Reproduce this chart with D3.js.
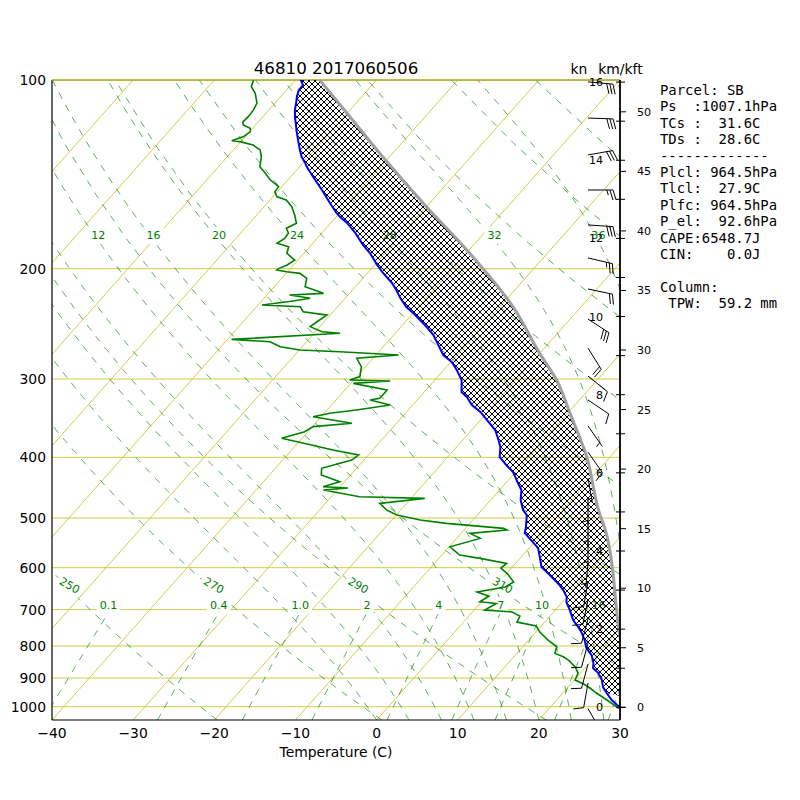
<!DOCTYPE html>
<html><head><meta charset="utf-8">
<script src="https://cdn.jsdelivr.net/npm/d3@7"></script>
<style>
body{margin:0;background:#fff}
text{font-family:"DejaVu Sans",sans-serif}
.mono{font-family:"DejaVu Sans Mono",monospace;white-space:pre}
</style></head>
<body><svg id="c" width="800" height="800"></svg>
<script>
// ---------------- data ----------------
const title = "46810 2017060506";
const tempP = [100,100.3,101.9,103.7,106.3,108.8,111.6,114.6,118.0,120.2,124.7,129.3,132.7,135.7,137.6,142.8,149.8,157.1,163.0,165.4,169.1,175.4,183.4,188.8,197.3,203.2,210.8,216.3,222.0,230.3,235.4,247.8,255.2,264.8,274.7,281.8,290.2,301.1,314.7,320.5,330.1,338.6,351.3,361.8,375.3,385.1,399.5,411.5,422.2,439.6,451.1,468.0,485.6,494.5,518.7,528.3,546.1,558.3,577.1,598.7,616.6,639.7,651.5,668.5,680.9,701.2,727.4,746.4,763.0,782.9,806.2,827.3,851.8,867.6,883.7,906.7,930.3,951.0,975.7,993.8,1001.1,1007.1];
const tempT = [-79.4,-79.2,-78.5,-78.5,-78.0,-77.4,-76.8,-76.0,-75.0,-74.4,-73.1,-71.8,-70.8,-69.7,-69.1,-67.2,-64.7,-62.3,-60.4,-59.5,-58.0,-55.9,-53.6,-51.9,-49.7,-48.1,-45.9,-44.6,-43.4,-41.5,-40.0,-36.8,-35.1,-33.4,-31.7,-29.9,-28.4,-26.7,-25.4,-24.2,-22.7,-20.9,-18.8,-17.1,-15.6,-14.6,-13.6,-11.9,-10.3,-8.5,-7.3,-6.3,-4.9,-3.9,-2.6,-2.2,-0.2,1.1,2.3,3.6,5.5,7.8,8.8,10.0,10.5,11.8,13.3,14.7,15.8,16.9,18.0,19.4,20.5,21.0,22.2,23.4,24.3,25.4,26.8,28.0,28.6,31.6];
const dewP = [100,100.3,102.5,105.0,108.9,111.6,114.4,116.6,118.0,119.4,120.9,123.1,125.0,125.4,127.0,129.3,132.6,137.5,140.9,144.3,148.0,150.8,153.6,155.4,159.3,164.3,169.3,172.4,175.6,178.9,182.2,184.5,189.0,193.8,197.3,199.8,201.0,202.3,203.5,207.3,213.7,219.0,220.3,223.0,225.3,228.6,230.0,234.3,237.2,243.1,247.5,252.1,253.6,259.3,261.6,266.5,269.7,271.4,274.7,278.0,286.8,297.5,301.1,302.2,304.8,312.3,322.0,324.0,330.0,336.1,340.3,344.5,352.9,357.3,364.0,373.0,382.3,389.4,396.6,404.0,416.5,426.9,437.5,445.6,447.7,451.1,462.3,465.1,473.7,485.6,494.5,503.6,509.8,519.3,522.5,528.9,538.8,555.6,572.9,579.9,590.6,600.9,614.3,632.4,644.2,656.2,666.1,680.1,684.2,701.2,705.6,716.8,732.8,743.6,760.2,782.9,802.3,822.1,832.5,842.6,864.4,883.7,906.7,920.1,933.6,949.2,975.7,1000.0,1007.1];
const dewT = [-85.2,-85.1,-84.7,-83.5,-82.2,-81.9,-81.8,-81.9,-81.5,-80.3,-79.9,-80.2,-81.2,-80.1,-78.1,-76.7,-75.8,-74.9,-73.5,-72.2,-70.4,-70.3,-69.5,-68.0,-66.6,-65.3,-64.2,-64.9,-64.1,-64.0,-64.4,-62.6,-62.1,-60.4,-60.8,-61.4,-61.5,-60.1,-58.3,-56.9,-56.2,-53.2,-57.2,-54.3,-56.1,-59.5,-54.6,-53.7,-50.4,-50.9,-51.2,-49.2,-46.8,-59.5,-54.5,-52.7,-49.9,-44.8,-37.2,-42.0,-40.5,-39.6,-40.5,-35.4,-39.7,-34.8,-34.8,-35.8,-32.8,-36.4,-39.3,-41.0,-35.5,-39.9,-40.4,-42.5,-38.1,-34.9,-31.2,-31.5,-34.3,-33.6,-30.6,-32.1,-28.9,-31.7,-26.5,-18.3,-23.3,-21.7,-19.9,-16.5,-12.9,-5.3,-4.7,-8.9,-7.1,-9.9,-7.8,-4.9,-1.1,-1.3,0.2,1.8,1.3,-1.6,0.3,-0.2,2.0,1.3,4.8,6.3,6.6,9.4,10.5,12.4,14.2,14.7,16.1,17.1,18.7,19.7,20.1,21.6,22.8,24.0,26.2,28.1,28.6];
const parcelP = [100,113.0,130.9,159.3,186.7,230.0,273.0,301.1,340.3,399.1,485.6,528.9,736.3,782.9,850,900,964.5,1007.1];
const parcelT = [-77.0,-70.0,-61.6,-50.0,-40.3,-28.4,-20.0,-15.0,-9.7,-2.9,4.4,7.9,19.2,21.3,23.9,25.6,27.9,31.6];
const lfcP = 964.5;
const windP = [100.7,115.0,131.7,149.8,170.3,192.3,215.5,240.7,267.8,296.7,324.0,356.5,392.4,431.6,468.0,503.6,544.0,589.9,632.4,675.5,724.7,791.6,855.0,916.7,1007.1];
const windDir = [95,92,80,90,94,103,102,123,148,129,124,145,145,170,180,180,180,185,190,192,195,195,195,190,150];
const windSpd = [30,30,30,25,30,25,20,30,20,10,10,5,10,5,5,5,5,5,10,10,10,10,10,10,5];
const pressureTicks = [100,200,300,400,500,600,700,800,900,1000];
const tempTicks = [-40,-30,-20,-10,0,10,20,30];
const kmTicks = [0,2,4,6,8,10,12,14,16];
const kftTicks = [0,5,10,15,20,25,30,35,40,45,50];
const dryThetas = [210,230,250,270,290,310,330,350,370,390,410,430,450,470,490,510,530,550];
const moistStarts = [0,4,8,12,16,20,24,28,32,36,40,44];
const mixRatios = [0.1,0.4,1,2,4,7,10,16,24,32];
const infoLines = ["Parcel: SB","Ps  :1007.1hPa","TCs :  31.6C","TDs :  28.6C","-------------","Plcl: 964.5hPa","Tlcl:  27.9C","Plfc: 964.5hPa","P_el:  92.6hPa","CAPE:6548.7J","CIN:    0.0J","","Column:"," TPW:  59.2 mm"];

// ---------------- layout ----------------
const AX = {l:52, r:620, t:80, b:720};
const svg = d3.select('#c');
svg.append('rect').attr('width',800).attr('height',800).attr('fill','#fff');
const yP = d3.scaleLog().domain([1050,100]).range([AX.b, AX.t]);
const xT = d3.scaleLinear().domain([-40,30]).range([AX.l, AX.r]);
const skew = (AX.r-AX.l)/(AX.b-AX.t);
const sx = (T,p) => xT(T) + (AX.b - yP(p))*skew;

const defs = svg.append('defs');
defs.append('clipPath').attr('id','clipAx').append('rect')
  .attr('x',AX.l).attr('y',AX.t).attr('width',AX.r-AX.l).attr('height',AX.b-AX.t);
defs.append('clipPath').attr('id','clipBarb').append('rect')
  .attr('x',500).attr('y',60).attr('width',140).attr('height',AX.b-60);
const hs = 6;
const pat = defs.append('pattern').attr('id','hatch').attr('patternUnits','userSpaceOnUse')
  .attr('width',hs).attr('height',hs);
pat.append('path').attr('d',`M0,0L${hs},${hs}M${hs},0L0,${hs}M-1,${hs-1}L1,${hs+1}M${hs-1},-1L${hs+1},1`)
  .attr('stroke','#000').attr('stroke-width',1).attr('fill','none');

const plot = svg.append('g').attr('clip-path','url(#clipAx)');
const YEL = '#c8c832', GRN = '#008000';

// isobars
plot.selectAll('.isobar').data(pressureTicks).enter().append('line')
  .attr('x1',AX.l).attr('x2',AX.r).attr('y1',d=>yP(d)).attr('y2',d=>yP(d))
  .attr('stroke',YEL).attr('stroke-width',0.9);
// isotherms
const isoT = d3.range(-120,40,10);
plot.selectAll('.isotherm').data(isoT).enter().append('line')
  .attr('x1',d=>sx(d,1050)).attr('y1',yP(1050)).attr('x2',d=>sx(d,100)).attr('y2',yP(100))
  .attr('stroke',YEL).attr('stroke-width',0.9);

// thermodynamic helpers
const Pgrid = d3.range(37).map(i=>1050 - i*950/36);
const KAPPA = 0.2857;
function moistProfile(T0){
  const Rd=287.05, Cp=1004.6, eps=0.622, N=501;
  const P=d3.range(N).map(i=>1050 - i*950/(N-1));
  let T=T0; const out=[{p:1050,T}];
  for(let i=0;i<N-1;i++){
    const delp=(P[i]-P[i+1])*100, pm=P[i]*100-delp/2, tk=T+273.15;
    const es=611.2*Math.exp(17.67*T/(T+243.12));
    const ws=eps*es/(pm-es);
    const tv=tk/(1-(es/pm)*(1-eps));
    const L=1000*(2500.8-2.36*T+0.0016*T*T-0.00006*T*T*T);
    const rho=pm/(Rd*tv);
    const A=-(1+L*ws/(Rd*tk)), B=rho*(Cp+eps*L*L*ws/(Rd*tk*tk));
    T = T + delp*(A/B);
    out.push({p:P[i+1],T});
  }
  return out;
}
const line = d3.line().x(d=>sx(d.T,d.p)).y(d=>yP(d.p));
const dash = '7,7';
const dashStyle = s => s.attr('fill','none').attr('stroke',GRN).attr('stroke-width',0.8)
    .attr('stroke-dasharray',dash).attr('opacity',0.8);

// dry adiabats
dryThetas.forEach(th=>{
  const pts = Pgrid.map(p=>({p, T: th*Math.pow(p/1000,KAPPA)-273.15}));
  plot.append('path').attr('d',line(pts)).call(dashStyle);
});
// moist adiabats
const moistLines = moistStarts.map(t0=>({t0, pts: moistProfile(t0)}));
moistLines.forEach(m=>{ plot.append('path').attr('d',line(m.pts.filter((d,i)=>i%5===0||i===m.pts.length-1))).call(dashStyle); });
// mixing ratio
const Pmix = Pgrid.filter(p=>p>=700);
const mixT = (w,p)=>{const e=p*(w/1000)/(0.622+w/1000); return 243.5/(17.67/Math.log(e/6.112)-1);};
mixRatios.forEach(w=>{
  const pts = Pmix.map(p=>({p, T: mixT(w,p)}));
  plot.append('path').attr('d',line(pts)).call(dashStyle);
});

// spines
svg.append('line').attr('x1',AX.l).attr('x2',AX.l).attr('y1',AX.t).attr('y2',AX.b).attr('stroke','#000').attr('stroke-width',1.2);
svg.append('line').attr('x1',AX.l).attr('x2',AX.r).attr('y1',AX.b).attr('y2',AX.b).attr('stroke','#000').attr('stroke-width',1.2);
svg.append('line').attr('x1',AX.l).attr('x2',AX.r).attr('y1',AX.t).attr('y2',AX.t).attr('stroke','#a6a620').attr('stroke-width',1.3);

// labels with white boxes
const lab = svg.append('g');
function boxLabel(x,y,txt,rot){
  const g = lab.append('g').attr('transform',`translate(${x},${y}) rotate(${rot||0})`);
  const r = g.append('rect').attr('fill','#fff');
  const t = g.append('text').attr('text-anchor','middle').attr('dy','0.35em')
    .attr('font-size',11.1).attr('fill',GRN).text(txt);
  const bb = t.node().getBBox();
  const pad = 3;
  r.attr('x',bb.x-pad).attr('y',bb.y-pad+1).attr('width',bb.width+2*pad).attr('height',bb.height+2*pad-2);
}
// mixing ratio labels
const pMixLab = Pmix[Pmix.length-1];
mixRatios.forEach(w=>{
  const x = sx(mixT(w,pMixLab),pMixLab);
  if(x>AX.l+5 && x<AX.r-5){
    const txt = w<=1 ? w.toFixed(1) : String(w);
    boxLabel(x, yP(pMixLab)-7, txt, 0);
  }
});
// moist labels
const pMoistLab = Pgrid[33];
moistLines.forEach(m=>{
  const pt = m.pts.reduce((a,b)=>Math.abs(b.p-pMoistLab)<Math.abs(a.p-pMoistLab)?b:a);
  const x = sx(pt.T, pMoistLab);
  if(x>AX.l+5 && x<AX.r) boxLabel(x, yP(pMoistLab)-3.5, String(m.t0), 0);
});
// dry labels
const pDryLab = Pgrid[15]+10;
dryThetas.forEach(th=>{
  const x = sx(th*Math.pow(pDryLab/1000,KAPPA)-273.15, pDryLab);
  if(x>AX.l-10 && x<AX.r-10) boxLabel(x-6, yP(pDryLab)-10, String(th), 30);
});

// CAPE hatch
const envAbove = tempP.map((p,i)=>({p,T:tempT[i]})).filter(d=>d.p<=lfcP);
const parcelPts = parcelP.map((p,i)=>({p,T:parcelT[i]}));
const parcelAbove = parcelPts.filter(d=>d.p<=lfcP);
const poly = envAbove.concat(parcelAbove.slice().reverse());
const data = svg.append('g').attr('clip-path','url(#clipAx)');
data.append('path').attr('d',line(poly)+'Z').attr('fill','url(#hatch)').attr('stroke','none');
const curve = d3.line().x(d=>sx(d.T,d.p)).y(d=>yP(d.p)).curve(d3.curveMonotoneY);
data.append('path').attr('d',curve(parcelPts)).attr('fill','none').attr('stroke','#a0a0a0').attr('stroke-width',3);
data.append('path').attr('d',line(tempP.map((p,i)=>({p,T:tempT[i]})))).attr('fill','none').attr('stroke','#0000ff').attr('stroke-width',2);
data.append('path').attr('d',line(dewP.map((p,i)=>({p,T:dewT[i]})))).attr('fill','none').attr('stroke',GRN).attr('stroke-width',1.6);

// axes labels
const FS = 13.9;
svg.selectAll('.ylab').data(pressureTicks).enter().append('text')
  .attr('x',46).attr('y',d=>yP(d)).attr('dy','0.36em').attr('text-anchor','end').attr('font-size',FS).text(d=>d);
svg.selectAll('.xlab').data(tempTicks).enter().append('text')
  .attr('x',d=>xT(d)).attr('y',737.5).attr('text-anchor','middle').attr('font-size',FS)
  .text(d=>d<0?'\u2212'+Math.abs(d):String(d));
svg.append('text').attr('x',(AX.l+AX.r)/2).attr('y',757).attr('text-anchor','middle').attr('font-size',FS).text('Temperature (C)');
svg.append('text').attr('x',(AX.l+AX.r)/2).attr('y',73.5).attr('text-anchor','middle').attr('font-size',16.7).text(title);

// height axis
const hKm = d3.scaleLinear().domain([0,16]).range([707.3, 82.1]);
svg.append('line').attr('x1',AX.r).attr('x2',AX.r).attr('y1',AX.t).attr('y2',AX.b).attr('stroke','#000').attr('stroke-width',1.8);
const hax = svg.append('g');
d3.range(0,17,1).forEach(k=>{
  hax.append('line').attr('x1',AX.r-4).attr('x2',AX.r+5).attr('y1',hKm(k)).attr('y2',hKm(k)).attr('stroke','#000').attr('stroke-width',1);
});
kmTicks.forEach(k=>{
  hax.append('text').attr('x',AX.r-17).attr('y',hKm(k)).attr('dy','0.36em').attr('text-anchor','end').attr('font-size',11.1).text(k);
});
kftTicks.forEach(f=>{
  hax.append('line').attr('x1',AX.r).attr('x2',AX.r+6).attr('y1',hKm(f*0.3048)).attr('y2',hKm(f*0.3048)).attr('stroke','#000').attr('stroke-width',1);
  hax.append('text').attr('x',637).attr('y',hKm(f*0.3048)).attr('dy','0.36em').attr('font-size',11.1).text(f);
});
svg.append('text').attr('x',579).attr('y',73.5).attr('text-anchor','middle').attr('font-size',FS).text('kn');
svg.append('text').attr('x',620.5).attr('y',73.5).attr('text-anchor','middle').attr('font-size',FS).text('km/kft');

// wind barbs (matplotlib geometry)
const bg = svg.append('g').attr('clip-path','url(#clipBarb)');
function barb(ox, oy, dir, spd){
  const L=25, sp=L*0.125, fh=L*0.4, fw=L*0.25;
  let s = 5*Math.floor(spd/5+0.5);
  const nflag=Math.floor(s/50); s-=nflag*50;
  const nbarb=Math.floor(s/10); s-=nbarb*10;
  const half = s>=5;
  const rad=dir*Math.PI/180, u=-Math.sin(rad), v=-Math.cos(rad);
  const ang=Math.atan2(v,u)+Math.PI/2;
  const R=(x,y)=>[ox + x*Math.cos(ang)-y*Math.sin(ang), oy-(x*Math.sin(ang)+y*Math.cos(ang))];
  let d = `M${R(0,0)}L${R(0,L)}`;
  let off=L;
  for(let i=0;i<nflag;i++){ if(off!==L) off+=sp/2;
    d+=`M${R(0,off)}L${R(fh,off-fw/2)}L${R(0,off-fw)}Z`; off-=fw+sp; }
  for(let i=0;i<nbarb;i++){ d+=`M${R(0,off)}L${R(fh,off+fw/2)}`; off-=sp; }
  if(half){ if(off===L) off-=1.5*sp; d+=`M${R(0,off)}L${R(fh/2,off+fw/4)}`; }
  bg.append('path').attr('d',d).attr('fill','#000').attr('stroke','#000').attr('stroke-width',1).attr('stroke-linejoin','round');
}
windP.forEach((p,i)=>barb(588, yP(p), windDir[i], windSpd[i]));

// info text
const info = svg.append('g');
infoLines.forEach((s,i)=>{
  info.append('text').attr('class','mono').attr('x',660).attr('y',95+i*16.4).attr('font-size',13.9).text(s);
});
</script></body></html>
